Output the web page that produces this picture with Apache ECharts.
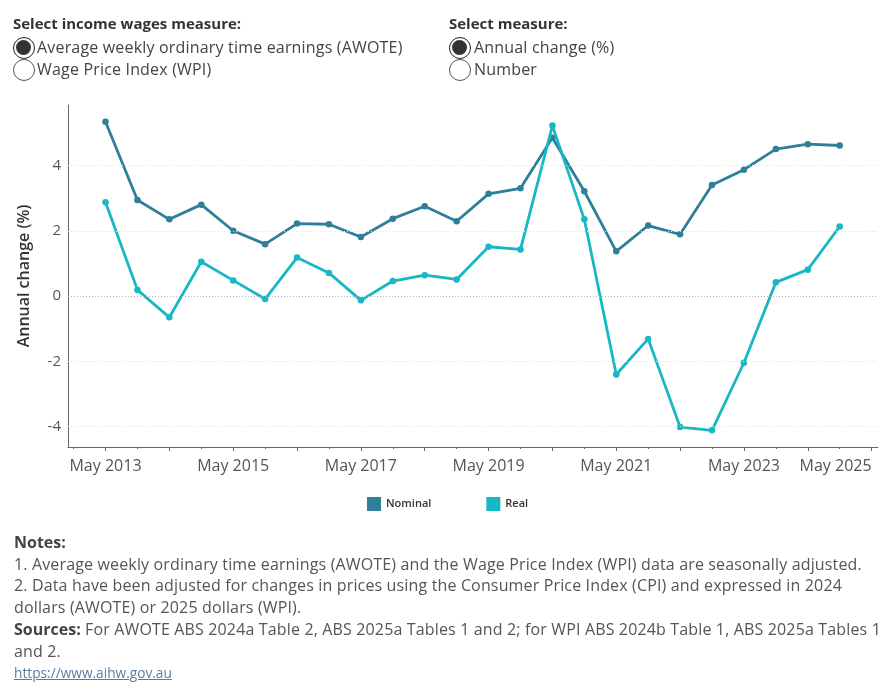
<!DOCTYPE html>
<html><head><meta charset="utf-8">
<script src="https://cdn.jsdelivr.net/npm/echarts@6/dist/echarts.min.js"></script>
<style>
body{margin:0;width:890px;height:700px;background:#fff;font-family:"Open Sans",sans-serif;position:relative;overflow:hidden;color:#333}
#chart{position:absolute;left:0;top:0;width:890px;height:700px}
.t{position:absolute;white-space:nowrap}
.h{font-weight:700;font-size:15px;color:#333}
.opt{font-size:16px;color:#444;line-height:22px;letter-spacing:0.18px}
.radio{position:absolute;width:22px;height:22px;border-radius:50%;border:1px solid #555;box-sizing:border-box;background:#fff}
.radio.on{border:1.6px solid #222}
.radio.on::after{content:'';position:absolute;left:2px;top:2px;width:15px;height:15px;border-radius:50%;background:#333}
#notes{position:absolute;left:14px;top:532px;width:875px;font-size:16px;letter-spacing:0.15px;line-height:21.7px;color:#555;white-space:nowrap}
#notes b{color:#444;letter-spacing:0}
#link{font-size:13.7px;letter-spacing:0;color:#5a7ca3;text-decoration:underline;line-height:20px}
</style></head><body>
<div id="chart"></div>
<div class="t h" style="left:13px;top:13px">Select income wages measure:</div>
<div class="radio on" style="left:12.5px;top:37px"></div>
<div class="radio" style="left:12.5px;top:59px"></div>
<div class="t opt" style="left:37px;top:36px">Average weekly ordinary time earnings (AWOTE)</div>
<div class="t opt" style="left:37px;top:58px">Wage Price Index (WPI)</div>
<div class="t h" style="left:449px;top:13px">Select measure:</div>
<div class="radio on" style="left:449px;top:37px"></div>
<div class="radio" style="left:449px;top:59px"></div>
<div class="t opt" style="left:474px;top:36px">Annual change (%)</div>
<div class="t opt" style="left:474px;top:58px">Number</div>
<div id="notes"><b>Notes:</b><br>1. Average weekly ordinary time earnings (AWOTE) and the Wage Price Index (WPI) data are seasonally adjusted.<br>2. Data have been adjusted for changes in prices using the Consumer Price Index (CPI) and expressed in 2024<br>dollars (AWOTE) or 2025 dollars (WPI).<br><b>Sources:</b> For AWOTE ABS 2024a Table 2, ABS 2025a Tables 1 and 2; for WPI ABS 2024b Table 1, ABS 2025a Tables 1<br>and 2.<br><span id="link">https://www.aihw.gov.au</span></div>
<script>
const periods = ["May 2013","Nov 2013","May 2014","Nov 2014","May 2015","Nov 2015","May 2016","Nov 2016",
  "May 2017","Nov 2017","May 2018","Nov 2018","May 2019","Nov 2019","May 2020","Nov 2020",
  "May 2021","Nov 2021","May 2022","Nov 2022","May 2023","Nov 2023","May 2024","Nov 2024"];
const nominal = [5.34,2.94,2.35,2.80,2.00,1.59,2.22,2.20,1.81,2.37,2.75,2.29,3.13,3.30,4.85,3.21,1.37,2.16,1.89,3.40,3.87,4.50,4.65,4.61];
const real = [2.87,0.19,-0.65,1.05,0.48,-0.09,1.18,0.71,-0.13,0.46,0.64,0.51,1.51,1.43,5.22,2.35,-2.40,-1.31,-4.01,-4.11,-2.04,0.42,0.81,2.13];
const xTickLabels = ["May 2013","May 2015","May 2017","May 2019","May 2021","May 2023","May 2025"];
const yTicks = [-4,-2,0,2,4];

const toMonths = p => { const s = p.split(' '); return (+s[1]-2013)*12 + (s[0]==='Nov'?6:0); };
const mayTicks = [], novTicks = [];
for (let y = 2013; y <= 2025; y++) mayTicks.push(toMonths('May ' + y));
for (let y = 2012; y <= 2024; y++) novTicks.push(toMonths('Nov ' + y));
const labelVals = xTickLabels.map(toMonths);
const XMIN = -7.05, XMAX = 145.2, YMIN = -4.62, YMAX = 5.85;
const gridPos = {left:68, right:12, top:105, bottom:253, containLabel:false, outerBoundsMode:'none'};
const lblFont = {fontFamily:'"Open Sans", sans-serif', color:'#555'};

const chart = echarts.init(document.getElementById('chart'));
chart.setOption({
  animation:false,
  grid:[Object.assign({}, gridPos), Object.assign({}, gridPos)],
  legend:{data:['Nominal','Real'], left:367, top:497, padding:0, icon:'rect', itemWidth:14, itemHeight:14, itemGap:55,
    textStyle:{fontFamily:'"Open Sans", sans-serif', fontSize:11, fontWeight:600, color:'#333'}},
  xAxis:[{type:'value', gridIndex:0, min:XMIN, max:XMAX,
      axisLine:{show:true, onZero:false, lineStyle:{color:'#666', width:1}},
      axisTick:{show:true, length:4, customValues:mayTicks, lineStyle:{color:'#666'}},
      axisLabel:Object.assign({show:true, margin:11, fontSize:16, customValues:labelVals, alignMaxLabel:'right',
        formatter:v => xTickLabels[labelVals.indexOf(v)] || ''}, lblFont),
      splitLine:{show:false}},
    {type:'value', gridIndex:1, min:XMIN, max:XMAX, position:'bottom',
      axisLine:{show:false, onZero:false}, axisLabel:{show:false}, splitLine:{show:false},
      axisTick:{show:true, length:2, customValues:novTicks, lineStyle:{color:'#666'}}}],
  yAxis:[{type:'value', gridIndex:0, min:YMIN, max:YMAX,
      name:'Annual change (%)', nameLocation:'middle', nameRotate:90, nameGap:36,
      nameTextStyle:{fontFamily:'"Open Sans", sans-serif', fontSize:16, fontWeight:600, color:'#333'},
      axisLine:{show:true, onZero:false, lineStyle:{color:'#666', width:1}},
      axisTick:{show:false},
      axisLabel:Object.assign({show:true, margin:7, fontSize:15, customValues:yTicks}, lblFont),
      splitLine:{show:false}},
    {type:'value', gridIndex:1, min:YMIN, max:YMAX, show:false}],
  series:[
    {name:'grid', type:'line', data:[], xAxisIndex:0, yAxisIndex:0, z:1, silent:true,
      markLine:{silent:true, symbol:'none', label:{show:false},
        data:yTicks.map(v => ({yAxis:v, lineStyle:{type:[1,2], width:1, color: v===0 ? '#b5b5b5' : '#e2e2e2'}}))}},
    {name:'Nominal', type:'line', xAxisIndex:0, yAxisIndex:0, z:3,
      data:periods.map((p,i)=>[toMonths(p), nominal[i]]),
      symbol:'circle', symbolSize:6.5, showSymbol:true,
      lineStyle:{width:2.8, color:'#2e7f9a'}, itemStyle:{color:'#2e7f9a'}},
    {name:'Real', type:'line', xAxisIndex:0, yAxisIndex:0, z:4,
      data:periods.map((p,i)=>[toMonths(p), real[i]]),
      symbol:'circle', symbolSize:6.5, showSymbol:true,
      lineStyle:{width:2.8, color:'#17b8c4'}, itemStyle:{color:'#17b8c4'}}
  ]
});
</script>
</body></html>
